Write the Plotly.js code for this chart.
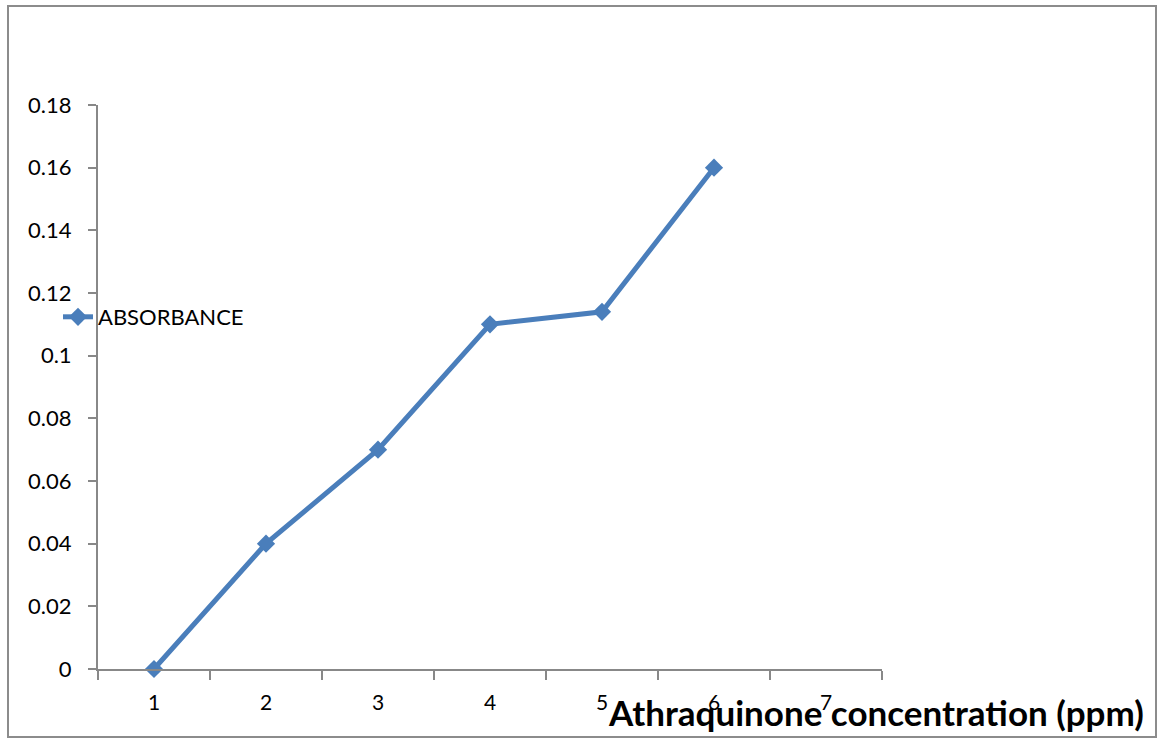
<!DOCTYPE html>
<html><head><meta charset="utf-8">
<script src="https://cdn.plot.ly/plotly-3.0.1.min.js"></script>
<style>html,body{margin:0;padding:0;background:#fff}#chart{width:1160px;height:744px}</style>
</head><body><div id="chart"></div>
<script>
const categories = ["1","2","3","4","5","6","7"];
const xValues = ["1","2","3","4","5","6"];
const absorbance = [0, 0.04, 0.07, 0.11, 0.114, 0.16];
const seriesName = "ABSORBANCE";
const xTitle = "Athraquinone concentration (ppm)";

const font = "Lato, 'Open Sans', sans-serif";
const trace = {
  x: xValues, y: absorbance, name: seriesName, type: "scatter", mode: "lines+markers",
  line: {color: "#4a7ebb", width: 5},
  marker: {symbol: "diamond", size: 14, color: "#4a7ebb"},
  cliponaxis: false
};
const L = 98, R = 882, T = 105, B = 669;
const W = R - L, H = B - T;
const px = v => (v - L) / W, py = v => (B - v) / H;
const layout = {
  width: 1160, height: 744,
  margin: {l: L, r: 1160 - R, t: T, b: 744 - B},
  paper_bgcolor: "#fff", plot_bgcolor: "#fff",
  font: {family: font, size: 22, color: "#000"},
  showlegend: true,
  legend: {x: px(58), xanchor: "left", y: py(317), yanchor: "middle", bgcolor: "rgba(0,0,0,0)", font: {size: 22, family: font}},
  xaxis: {
    type: "category", categoryorder: "array", categoryarray: categories,
    range: [-0.5, 6.5], tickson: "boundaries", ticks: "outside", ticklen: 9, tickcolor: "#888", tickwidth: 2,
    showline: true, linecolor: "#888", linewidth: 2, showgrid: false, zeroline: false,
    tickfont: {size: 21}, ticklabelstandoff: 14, fixedrange: true
  },
  yaxis: {
    range: [0, 0.18], dtick: 0.02, tick0: 0, ticks: "outside", ticklen: 8, tickcolor: "#888", tickwidth: 2,
    showline: true, linecolor: "#888", linewidth: 2, showgrid: false, zeroline: false,
    tickfont: {size: 22}, ticklabelstandoff: 12
  },
  annotations: [{
    xref: "paper", yref: "paper", x: px(876), y: py(712), xanchor: "center", yanchor: "middle",
    text: "<b>" + xTitle + "</b>", showarrow: false, font: {size: 35, family: font, color: "#000"}
  }],
  shapes: [{
    type: "rect", xref: "paper", yref: "paper", x0: px(8), x1: px(1156), y0: py(737), y1: py(6),
    line: {color: "#8c8c8c", width: 2}, layer: "below"
  }]
};
Plotly.newPlot("chart", [trace], layout, {displayModeBar: false, staticPlot: true});
</script></body></html>
